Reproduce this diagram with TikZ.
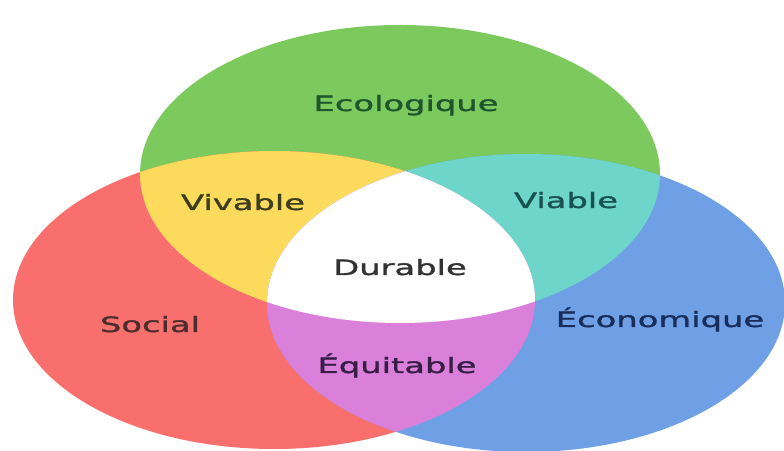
\documentclass[tikz,border=0pt]{standalone}
\usepackage{fontspec}
\newfontfamily\vennfont[FakeStretch=1.6,FakeBold=1.4]{DejaVu Sans}
\usepackage{tikz}
\usetikzlibrary{positioning}
\definecolor{ecogreen}{RGB}{124,201,94}
\definecolor{socred}{RGB}{249,111,110}
\definecolor{econblue}{RGB}{111,160,230}
\definecolor{vivyellow}{RGB}{252,218,92}
\definecolor{viateal}{RGB}{110,213,202}
\definecolor{equipink}{RGB}{218,128,218}
\definecolor{ecotext}{RGB}{30,85,45}
\definecolor{vivtext}{RGB}{60,60,30}
\definecolor{viatext}{RGB}{25,80,80}
\definecolor{durtext}{RGB}{50,50,50}
\definecolor{soctext}{RGB}{75,45,45}
\definecolor{econtext}{RGB}{25,45,90}
\definecolor{equitext}{RGB}{55,30,70}
\tikzset{
setlabel/.style = {font=\vennfont\fontsize{15}{17}\selectfont, inner sep=0pt, anchor=base},
}
% the three sets
\def\ecoset{(400,174) ellipse [x radius=260, y radius=149]}
\def\socset{(274,300) ellipse [x radius=261, y radius=149]}
\def\econset{(526,303) ellipse [x radius=259, y radius=149]}

\begin{document}
\begin{tikzpicture}[x=0.025cm,y=-0.025cm]
        \useasboundingbox (0,0) rectangle (784,451);
        \fill[ecogreen] \ecoset;
        \fill[socred] \socset;
        \fill[econblue] \econset;
        %pairwise overlaps
        \begin{scope}
            \clip \ecoset;
            \fill[vivyellow] \socset;
        \end{scope}
        \begin{scope}
            \clip \ecoset;
            \fill[viateal] \econset;
        \end{scope}
        \begin{scope}
            \clip \socset;
            \fill[equipink] \econset;
        \end{scope}
        %all three
        \begin{scope}
            \clip \ecoset;
            \clip \socset;
            \fill[white] \econset;
        \end{scope}

        \node [setlabel, text=ecotext] (eco) at (406,111) {Ecologique};
        \node [setlabel, text=vivtext] (viv) at (243,210) {Vivable};
        \node [setlabel, text=viatext] (via) at (566,208) {Viable};
        \node [setlabel, text=durtext] (dur) at (400,275) {Durable};
        \node [setlabel, text=soctext] (soc) at (150,332) {Social};
        \node [setlabel, text=econtext] (econ) at (660,327) {Économique};
        \node [setlabel, text=equitext] (equi) at (397,373) {Équitable};
\end{tikzpicture}
\end{document}
